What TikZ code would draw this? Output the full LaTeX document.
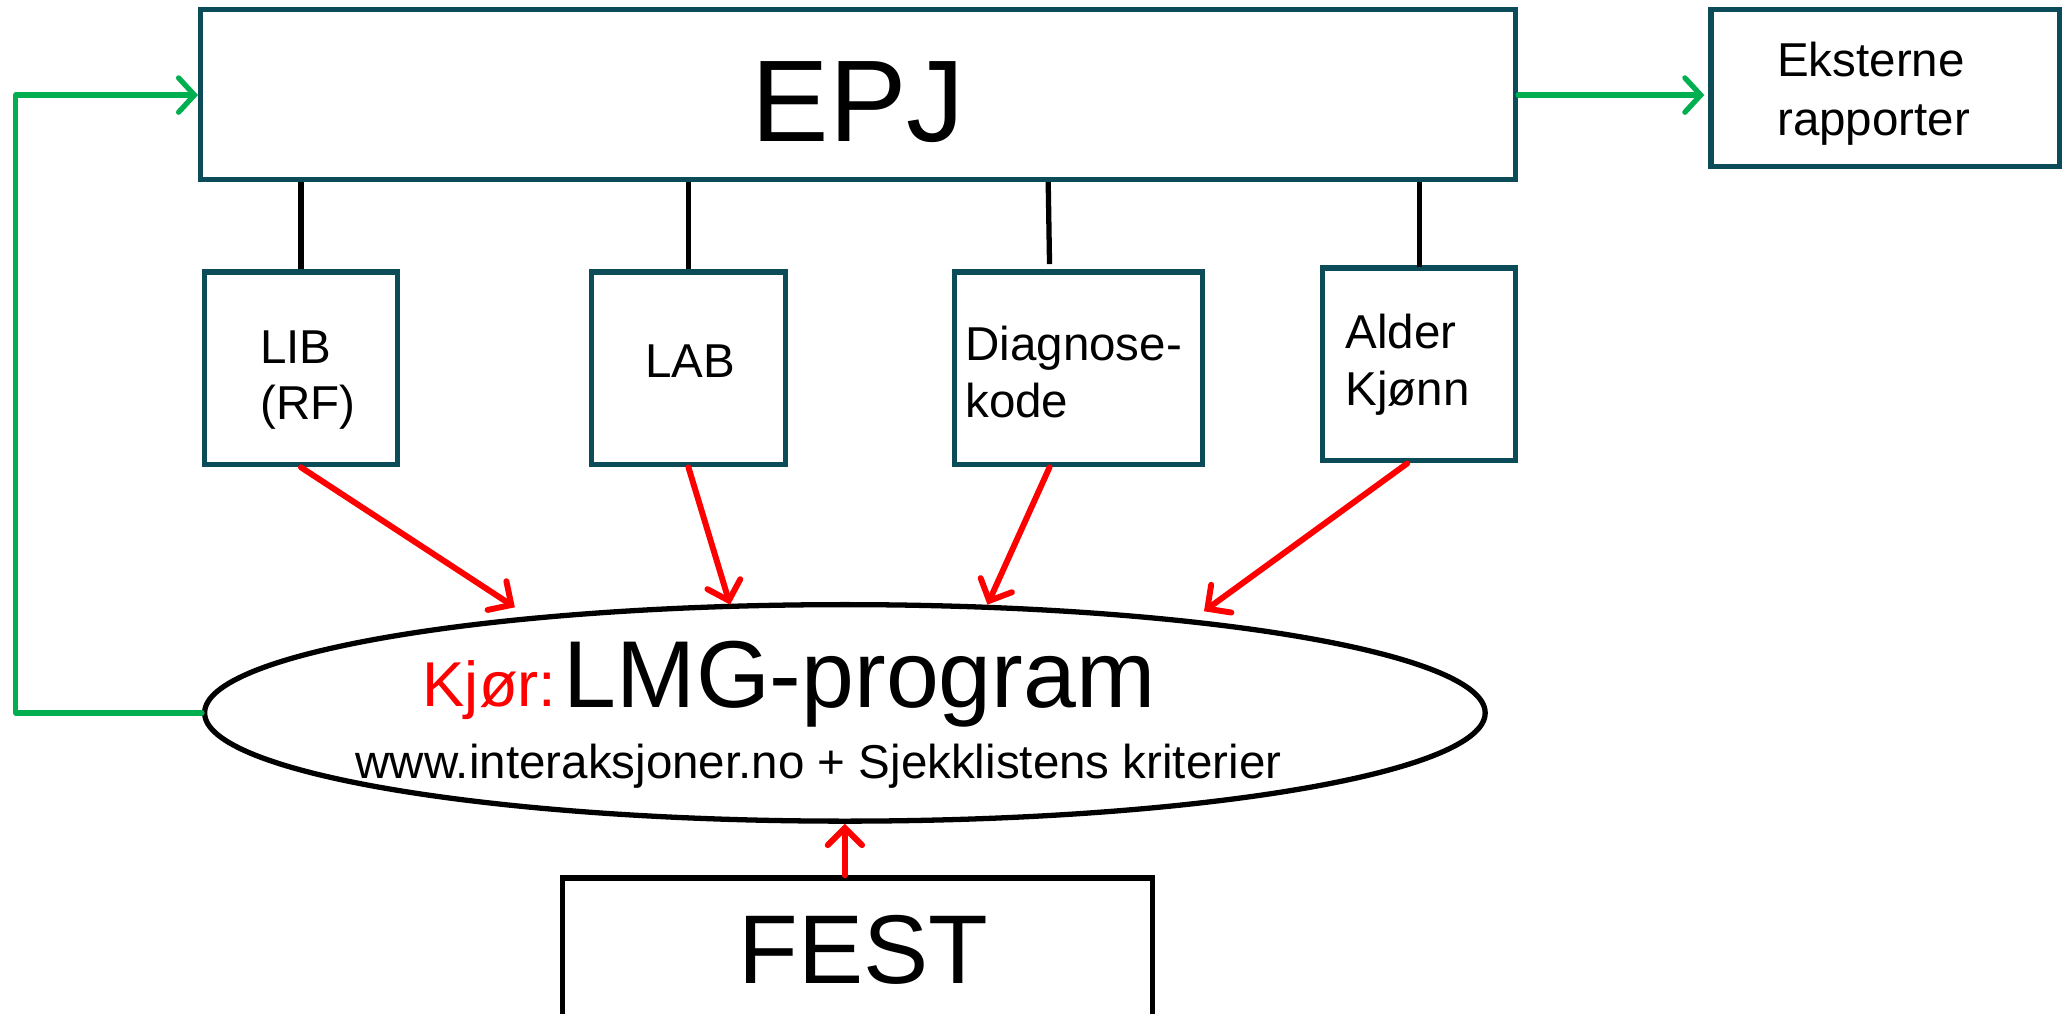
\documentclass[tikz,border=0pt]{standalone}
\usepackage{fontspec}
\setmainfont{Liberation Sans}
\usetikzlibrary{shapes.geometric,arrows.meta}
\definecolor{boxteal}{RGB}{12,76,88}
\definecolor{arrowgreen}{RGB}{0,176,80}
\definecolor{arrowred}{RGB}{255,0,0}
\newcommand\fszSmall{\fontsize{36}{43}\selectfont}
\tikzset{
  box/.style={draw=boxteal, line width=4pt, rectangle, inner sep=0pt},
  festbox/.style={draw=black, line width=4pt, rectangle, inner sep=0pt},
  lbl/.style={font=\fszSmall, inner sep=0pt, anchor=base west},
  link/.style={draw=black, line width=4pt},
  garrow/.style={draw=arrowgreen, line width=4pt, line cap=round, line join=round,
    -{Straight Barb[length=12pt,width=26pt,line width=4pt,line cap=round]}},
  rarrow/.style={draw=arrowred, line width=4.5pt, line cap=round,
    -{Straight Barb[length=13pt,width=26pt,line width=4.5pt,line cap=round]}},
}
\begin{document}
\begin{tikzpicture}[x=1pt,y=-1pt]
\useasboundingbox (0,0) rectangle (1568,768);
\clip (0,0) rectangle (1568,768);
\fill[white] (0,0) rectangle (1568,768);

% boxes
\node[box, minimum width=996pt, minimum height=129pt] (epj) at (650,71.5) {};
\node[box, minimum width=264pt, minimum height=119pt] (ext) at (1428,66.5) {};
\node[box, minimum width=146pt, minimum height=146pt] (lib) at (228,279) {};
\node[box, minimum width=147pt, minimum height=146pt] (lab) at (521.5,279) {};
\node[box, minimum width=188pt, minimum height=146pt] (diag) at (817,279) {};
\node[box, minimum width=146pt, minimum height=146pt] (alder) at (1075,276) {};
\node[draw=black, line width=4pt, ellipse, minimum width=970pt, minimum height=164pt, inner sep=0pt] (lmg) at (640,540) {};
\node[festbox, minimum width=447pt, minimum height=130pt] (fest) at (649.5,730) {};

% texts
\node[font=\fontsize{88}{100}\selectfont, inner sep=0pt, anchor=base] (epjt) at (650,107) {EPJ};
\node[lbl] (ext1) at (1346,58) {Eksterne};
\node[lbl] (ext2) at (1346,103) {rapporter};
\node[lbl] (lib1) at (197,275) {LIB};
\node[lbl] (lib2) at (197,318) {(RF)};
\node[lbl, anchor=base] (labt) at (523,286) {LAB};
\node[lbl] (diag1) at (731,273) {Diagnose-};
\node[lbl] (diag2) at (731,316) {kode};
\node[lbl] (alder1) at (1019,264) {Alder};
\node[lbl] (alder2) at (1019,307) {Kjønn};
\node[font=\fontsize{48}{56}\selectfont, text=arrowred, inner sep=0pt, anchor=base west] (kjor) at (320,535) {Kjør:};
\node[font=\fontsize{72}{80}\selectfont, inner sep=0pt, anchor=base west] (lmgt) at (427,536) {LMG-program};
\node[font=\fszSmall, inner sep=0pt, anchor=base] (www) at (620,590) {www.interaksjoner.no + Sjekklistens kriterier};
\node[font=\fontsize{74}{80}\selectfont, inner sep=0pt, anchor=base] (festt) at (654,745) {FEST};

% black links
\draw[link] (lib.north) -- (lib.north |- epj.south);
\draw[link] (lab.north) -- (lab.north |- epj.south);
\draw[link] ([xshift=-22pt,yshift=4pt]diag.north) -- ([xshift=-23pt]diag.north |- epj.south);
\draw[link] ([yshift=-1pt]alder.north) -- (alder.north |- epj.south);

% green arrows
\coordinate (gcorner) at (12,72);
\draw[garrow] (lmg.west) -| (gcorner) -- (gcorner -| epj.west);
\draw[garrow] (epj.east |- gcorner) -- ([xshift=-3pt]ext.west |- gcorner);

% red arrows
\coordinate (t1) at (390,460);
\coordinate (t2) at (553,458);
\coordinate (t3) at (748,458);
\coordinate (t4) at (912,463);
\draw[rarrow] (lib.south) -- (t1);
\draw[rarrow] (lab.south) -- (t2);
\draw[rarrow] ([xshift=-22pt]diag.south) -- (t3);
\draw[rarrow] ([xshift=-9pt]alder.south) -- (t4);
\draw[rarrow] ([xshift=-9.5pt]fest.north) -- ([xshift=-9.5pt]fest.north |- lmg.south);
\end{tikzpicture}
\end{document}
